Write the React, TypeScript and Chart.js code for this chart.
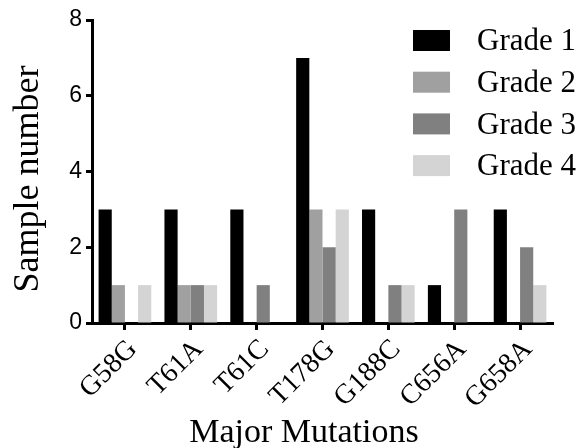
import React, { useEffect, useRef } from "react";
import { Chart, registerables } from "chart.js";

Chart.register(...registerables);

const categories = ["G58G", "T61A", "T61C", "T178G", "G188C", "C656A", "G658A"];
const grade1 = [3, 3, 3, 7, 3, 1, 3];
const grade2 = [1, 1, 0, 3, 0, 0, 0];
const grade3 = [0, 1, 1, 2, 1, 3, 2];
const grade4 = [1, 1, 0, 3, 1, 0, 1];
const seriesLabels = ["Grade 1", "Grade 2", "Grade 3", "Grade 4"];
const seriesColors = ["#000000", "#a0a0a0", "#808080", "#d4d4d4"];
const yTicks = [0, 2, 4, 6, 8];
const xTitle = "Major Mutations";
const yTitle = "Sample number";

const SERIF = "'Liberation Serif', 'Times New Roman', serif";
const SANS = "'Liberation Sans', Arial, sans-serif";

const decorPlugin = {
  id: "decor",
  afterDraw(chart: any) {
    const ctx = chart.ctx;
    ctx.save();
    // legend
    chart.data.datasets.forEach((ds: any, i: number) => {
      const yc = 41 + i * 41.7;
      ctx.fillStyle = ds.backgroundColor;
      ctx.fillRect(413, yc - 11, 37, 21);
      ctx.fillStyle = "#000";
      ctx.font = "31px " + SERIF;
      ctx.textBaseline = "middle";
      ctx.textAlign = "left";
      ctx.fillText(ds.label, 477, yc + 1);
    });
    // x title
    ctx.fillStyle = "#000";
    ctx.font = "34px " + SERIF;
    ctx.textAlign = "center";
    ctx.textBaseline = "alphabetic";
    ctx.fillText(xTitle, 304, 442);
    // y title
    ctx.translate(29, 179);
    ctx.rotate(-Math.PI / 2);
    ctx.font = "36px " + SERIF;
    ctx.textAlign = "center";
    ctx.textBaseline = "middle";
    ctx.fillText(yTitle, 0, 0);
    ctx.restore();
  },
};

export default function App() {
  const ref = useRef<HTMLCanvasElement>(null);
  useEffect(() => {
    const chart = new Chart(ref.current!, {
      type: "bar",
      data: {
        labels: categories,
        datasets: [grade1, grade2, grade3, grade4].map((d, i) => ({
          label: seriesLabels[i],
          data: d,
          backgroundColor: seriesColors[i],
          borderWidth: 0,
          categoryPercentage: 0.8,
          barPercentage: 1.0,
        })),
      },
      options: {
        responsive: false,
        animation: false,
        layout: { padding: { top: 20, right: 29, left: 0, bottom: 0 } },
        plugins: { legend: { display: false }, tooltip: { enabled: false } },
        scales: {
          x: {
            grid: {
              display: true,
              drawOnChartArea: false,
              drawTicks: true,
              tickLength: 7,
              tickWidth: 3,
              offset: false,
              color: "#000",
            },
            border: { display: true, color: "#000", width: 3 },
            ticks: {
              color: "#000",
              font: { family: SERIF, size: 28 },
              minRotation: 45,
              maxRotation: 45,
              padding: 3,
              labelOffset: 8,
            },
            afterFit: (scale: any) => {
              scale.height = 125;
            },
          },
          y: {
            min: 0,
            max: 8,
            afterBuildTicks: (scale: any) => {
              scale.ticks = yTicks.map((v) => ({ value: v }));
            },
            grid: {
              display: true,
              drawOnChartArea: false,
              drawTicks: true,
              tickLength: 6,
              tickWidth: 3,
              color: "#000",
            },
            border: { display: true, color: "#000", width: 3 },
            ticks: {
              color: "#000",
              font: { family: SANS, size: 23 },
              padding: 4,
            },
            afterFit: (scale: any) => {
              scale.width = 92;
            },
          },
        },
      },
      plugins: [decorPlugin],
    });
    return () => chart.destroy();
  }, []);
  return (
    <div style={{ position: "fixed", left: 0, top: 0, width: 582, height: 448, background: "#fff" }}>
      <canvas ref={ref} width={582} height={448} />
    </div>
  );
}
